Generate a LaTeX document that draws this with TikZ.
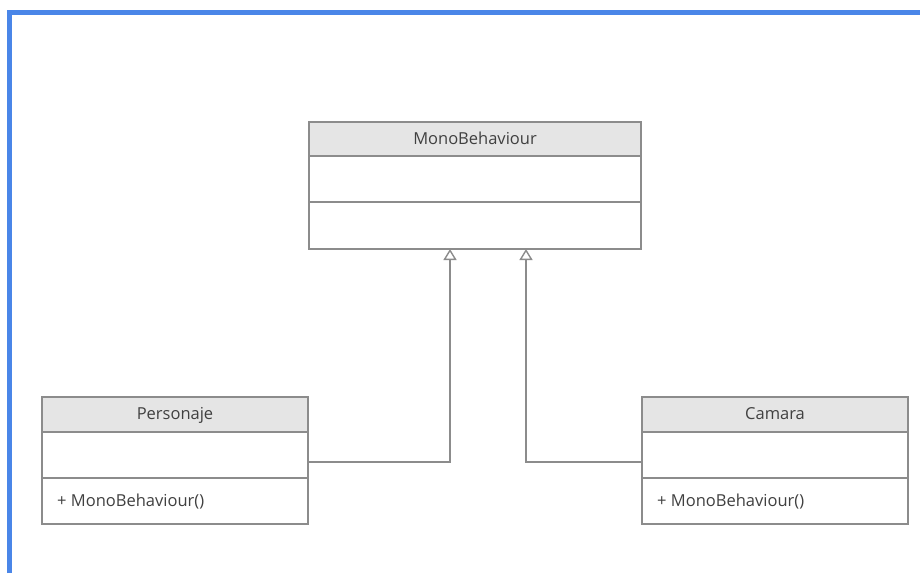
\documentclass[tikz,border=0pt]{standalone}
\usepackage{fontspec}
\setmainfont{Open Sans}
\usetikzlibrary{arrows.meta,positioning}
\definecolor{frameblue}{HTML}{4A86E8}
\definecolor{umlline}{HTML}{8C8C8C}
\definecolor{umlhead}{HTML}{E5E5E5}
\definecolor{umltext}{HTML}{404040}
\tikzset{
  umlfont/.style={text=umltext, font=\fontsize{16.5}{19}\selectfont, text height=2.1ex, text depth=0.2ex},
  compart/.style={draw=umlline, line width=1.7pt, rectangle, inner sep=0pt, outer sep=0pt, umlfont},
  headbox/.style={compart, fill=umlhead},
  inherit/.style={draw=umlline, line width=1.7pt, -{Triangle[open, width=13pt, length=11pt, line width=1.4pt]}},
}
\begin{document}
\begin{tikzpicture}[x=1pt, y=-1pt]
\useasboundingbox (0,0) rectangle (920,573);
\fill[white] (0,0) rectangle (920,573);
% outer frame
\draw[frameblue, line width=5pt] (9.5,573) -- (9.5,12.5) -- (920,12.5);

% MonoBehaviour
\node[headbox, minimum width=332pt, minimum height=34pt, anchor=north west] (monoH) at (309,122) {MonoBehaviour};
\node[compart, minimum width=332pt, minimum height=46pt, anchor=north] (monoA) at (monoH.south) {};
\node[compart, minimum width=332pt, minimum height=47pt, anchor=north] (monoO) at (monoA.south) {};

% Personaje
\node[headbox, minimum width=266pt, minimum height=35pt, anchor=north west] (persH) at (42,397) {Personaje};
\node[compart, minimum width=266pt, minimum height=46pt, anchor=north] (persA) at (persH.south) {};
\node[compart, minimum width=266pt, minimum height=46pt, anchor=north] (persO) at (persA.south) {};
\node[anchor=west, umlfont, inner sep=0pt] (persOp) at ([xshift=15pt]persO.west) {+ MonoBehaviour()};

% Camara
\node[headbox, minimum width=266pt, minimum height=35pt, anchor=north west] (camH) at (642,397) {Camara};
\node[compart, minimum width=266pt, minimum height=46pt, anchor=north] (camA) at (camH.south) {};
\node[compart, minimum width=266pt, minimum height=46pt, anchor=north] (camO) at (camA.south) {};
\node[anchor=west, umlfont, inner sep=0pt] (camOp) at ([xshift=15pt]camO.west) {+ MonoBehaviour()};

% generalisations
\coordinate (tipL) at ([xshift=-25pt]monoO.south);
\coordinate (tipR) at ([xshift=51pt]monoO.south);
\draw[inherit] ([yshift=-7pt]persA.east) -| (tipL);
\draw[inherit] ([yshift=-7pt]camA.west) -| (tipR);
\end{tikzpicture}
\end{document}
